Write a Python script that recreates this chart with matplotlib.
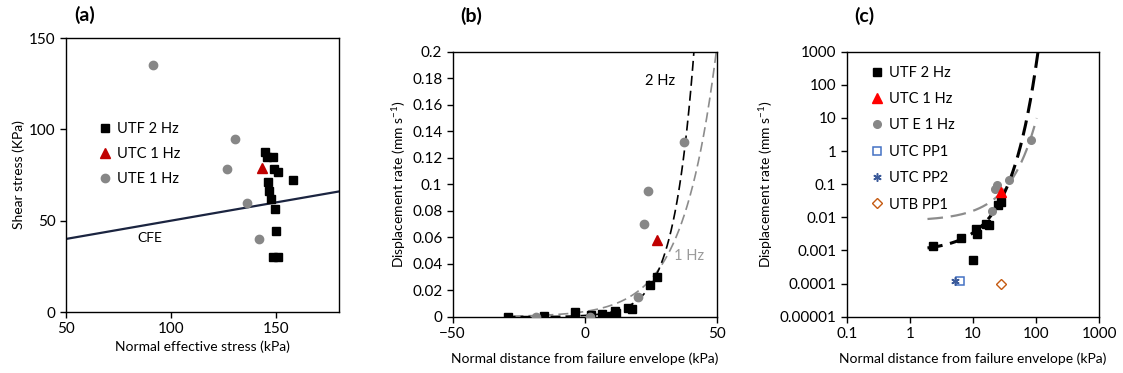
import numpy as np
import matplotlib.pyplot as plt
from matplotlib.ticker import FixedLocator, FuncFormatter, NullLocator

plt.rcParams['font.family'] = ['Lato', 'DejaVu Sans']
plt.rcParams['mathtext.fontset'] = 'custom'
plt.rcParams['mathtext.rm'] = 'Lato'
plt.rcParams['mathtext.it'] = 'Lato:italic'
plt.rcParams['font.size'] = 10

# ---------------- data: panel (a) ----------------
utf_sigma = [144.8, 145.6, 148.4, 149.2, 150.8, 158.3, 146.0, 146.8, 147.6, 149.5, 149.8, 148.7, 150.8]
utf_tau = [87.6, 84.9, 84.9, 78.3, 76.5, 72.1, 71.4, 66.2, 61.9, 56.4, 44.2, 30.1, 30.1]
utc_sigma = [143.2]
utc_tau = [78.8]
ute_sigma = [91.6, 130.3, 126.7, 136.2, 141.7]
ute_tau = [135.2, 94.7, 78.3, 59.7, 40.0]
cfe_cohesion = 30.0   # kPa
cfe_slope = 0.2

# ---------------- data: panels (b) and (c) ----------------
utf_dist = [-29.2, -15.5, -3.7, 2.3, 6.5, 10.0, 11.3, 11.7, 16.3, 17.9, 24.8, 27.4]
utf_rate = [0.0, 0.0008, 0.0038, 0.0014, 0.0024, 0.0005, 0.0044, 0.0031, 0.0062, 0.0059, 0.024, 0.030]
utc_dist = [27.3]
utc_rate = [0.058]
ute_dist = [-18.4, 1.9, 20.3, 22.3, 23.8, 37.5, 83.5]
ute_rate = [0.0, 0.0, 0.015, 0.070, 0.095, 0.132, 2.15]
pp1_dist, pp1_rate = [6.3], [0.00012]
pp2_dist, pp2_rate = [5.1], [0.00012]
utb_dist, utb_rate = [27.4], [0.0001]

# exponential trend lines y = A exp(B x)
fit2_A, fit2_B = 0.00093, 0.1298      # 2 Hz (b and c)
fit1b_A, fit1b_B = 0.0039, 0.079      # 1 Hz as drawn in (b)
fit1c_A, fit1c_B = 0.0078, 0.0701     # 1 Hz as drawn in (c)

GREY = '#878787'
DARKRED = '#C00000'
TICK_FS = 11
LABEL_FS = 10

fig = plt.figure(figsize=(11.23, 3.73), dpi=100)

# ===================== (a) =====================
ax1 = fig.add_axes([0.0588, 0.1635, 0.2431, 0.7346])
x_cfe = np.array([50, 180])
ax1.plot(x_cfe, cfe_cohesion + cfe_slope * x_cfe, color='#1b2440', lw=1.6, zorder=2)
ax1.plot(utf_sigma, utf_tau, 's', color='black', ms=5.5, ls='none', label='UTF 2 Hz', zorder=3)
ax1.plot(utc_sigma, utc_tau, '^', color=DARKRED, ms=7.5, ls='none', label='UTC 1 Hz', zorder=3)
ax1.plot(ute_sigma, ute_tau, 'o', color=GREY, ms=6, ls='none', label='UTE 1 Hz', zorder=3)
ax1.text(90, 40.3, 'CFE', ha='center', va='center', fontsize=10)
ax1.set_xlim(50, 180)
ax1.set_ylim(0, 150)
ax1.xaxis.set_major_locator(FixedLocator([50, 100, 150]))
ax1.yaxis.set_major_locator(FixedLocator([0, 50, 100, 150]))
ax1.set_xlabel('Normal effective stress (kPa)', labelpad=3, fontsize=LABEL_FS)
ax1.set_ylabel('Shear stress (KPa)', labelpad=3, fontsize=LABEL_FS)
ax1.legend(loc='upper left', bbox_to_anchor=(0.09, 0.72), frameon=False, borderpad=0,
           handlelength=1.0, handletextpad=0.3, labelspacing=0.75, fontsize=10.5)
ax1.set_title('(a)', loc='left', x=0.03, y=1.03, fontsize=14, fontweight='bold')

# ===================== (b) =====================
ax2 = fig.add_axes([0.4031, 0.1509, 0.2351, 0.7105])
xb2 = np.linspace(-30, 45, 300)
xb1 = np.linspace(-27, 52, 300)
ax2.plot(xb1, fit1b_A * np.exp(fit1b_B * xb1), color='#8c8c8c', lw=1.2, dashes=(6, 3), zorder=2)
ax2.plot(xb2, fit2_A * np.exp(fit2_B * xb2), color='black', lw=1.2, dashes=(6, 3), zorder=2)
ax2.plot(utf_dist, utf_rate, 's', color='black', ms=5.5, ls='none', zorder=3)
ax2.plot(ute_dist, ute_rate, 'o', color=GREY, ms=6, ls='none', zorder=3)
ax2.plot(utc_dist, utc_rate, '^', color=DARKRED, ms=7.5, ls='none', zorder=3)
ax2.text(28.4, 0.178, '2 Hz', ha='center', va='center', fontsize=10.5)
ax2.text(39.4, 0.046, '1 Hz', ha='center', va='center', fontsize=10.5, color='#9a9a9a')
ax2.set_xlim(-50, 50)
ax2.set_ylim(0, 0.2)
ax2.xaxis.set_major_locator(FixedLocator([-50, 0, 50]))
ax2.yaxis.set_major_locator(FixedLocator(np.arange(0, 0.201, 0.02)))
ax2.yaxis.set_major_formatter(FuncFormatter(lambda v, p: '%g' % round(v, 2)))
ax2.set_xlabel('Normal distance from failure envelope (kPa)', labelpad=8, fontsize=LABEL_FS)
ax2.set_ylabel('Displacement rate (mm s$^{-1}$)', labelpad=3, fontsize=LABEL_FS)
ax2.set_title('(b)', loc='left', x=0.03, y=1.08, fontsize=14, fontweight='bold')

# ===================== (c) =====================
ax3 = fig.add_axes([0.754, 0.1509, 0.2249, 0.7105])
xc2 = np.linspace(1.9, 107, 400)
xc1 = np.linspace(1.9, 102, 400)
ax3.plot(xc1, fit1c_A * np.exp(fit1c_B * xc1), color='#8c8c8c', lw=1.6, dashes=(7, 3.5), zorder=2)
ax3.plot(xc2, fit2_A * np.exp(fit2_B * xc2), color='black', lw=2.2, dashes=(5, 2.5), zorder=2)
pos_u = [(d, r) for d, r in zip(utf_dist, utf_rate) if d > 0 and r > 0]
pos_e = [(d, r) for d, r in zip(ute_dist, ute_rate) if d > 0 and r > 0]
ax3.plot([p[0] for p in pos_u], [p[1] for p in pos_u], 's', color='black', ms=5.5, ls='none',
         label='UTF 2 Hz', zorder=3)
ax3.plot(utc_dist, utc_rate, '^', color='#ff0000', ms=7, ls='none', label='UTC 1 Hz', zorder=4)
ax3.plot([p[0] for p in pos_e], [p[1] for p in pos_e], 'o', color=GREY, ms=5.5, ls='none',
         label='UT E 1 Hz', zorder=3)
ax3.plot(pp1_dist, pp1_rate, 's', mfc='none', mec='#4472C4', mew=1.1, ms=6, ls='none',
         label='UTC PP1', zorder=3)
ax3.plot(pp2_dist, pp2_rate, marker=(6, 2, 0), color='#3b5a9a', mew=1.1, ms=6, ls='none',
         label='UTC PP2', zorder=3)
ax3.plot(utb_dist, utb_rate, 'D', mfc='none', mec='#C55A11', mew=1.0, ms=5, ls='none',
         label='UTB PP1', zorder=3)
ax3.set_xscale('log')
ax3.set_yscale('log')
ax3.set_xlim(0.1, 1000)
ax3.set_ylim(1e-5, 1000)
ax3.xaxis.set_major_locator(FixedLocator([0.1, 1, 10, 100, 1000]))
ax3.yaxis.set_major_locator(FixedLocator([1e-5, 1e-4, 1e-3, 1e-2, 1e-1, 1, 10, 100, 1000]))
ax3.xaxis.set_minor_locator(NullLocator())
ax3.yaxis.set_minor_locator(NullLocator())
ax3.xaxis.set_major_formatter(FuncFormatter(lambda v, p: '%g' % v))
ax3.yaxis.set_major_formatter(FuncFormatter(lambda v, p: ('%.5f' % v).rstrip('0').rstrip('.')))
ax3.set_xlabel('Normal distance from failure envelope (kPa)', labelpad=8, fontsize=LABEL_FS)
ax3.set_ylabel('Displacement rate (mm s$^{-1}$)', labelpad=3, fontsize=LABEL_FS)
ax3.legend(loc='upper left', bbox_to_anchor=(0.063, 0.975), frameon=False, borderpad=0,
           handlelength=1.0, handletextpad=0.3, labelspacing=0.85, fontsize=10.5)
ax3.set_title('(c)', loc='left', x=0.03, y=1.08, fontsize=14, fontweight='bold')

for ax in (ax1, ax2, ax3):
    for s in ax.spines.values():
        s.set_linewidth(1.0)
    ax.tick_params(direction='out', length=4, width=1.0, labelsize=TICK_FS)

fig.savefig('out.png', dpi=100)
